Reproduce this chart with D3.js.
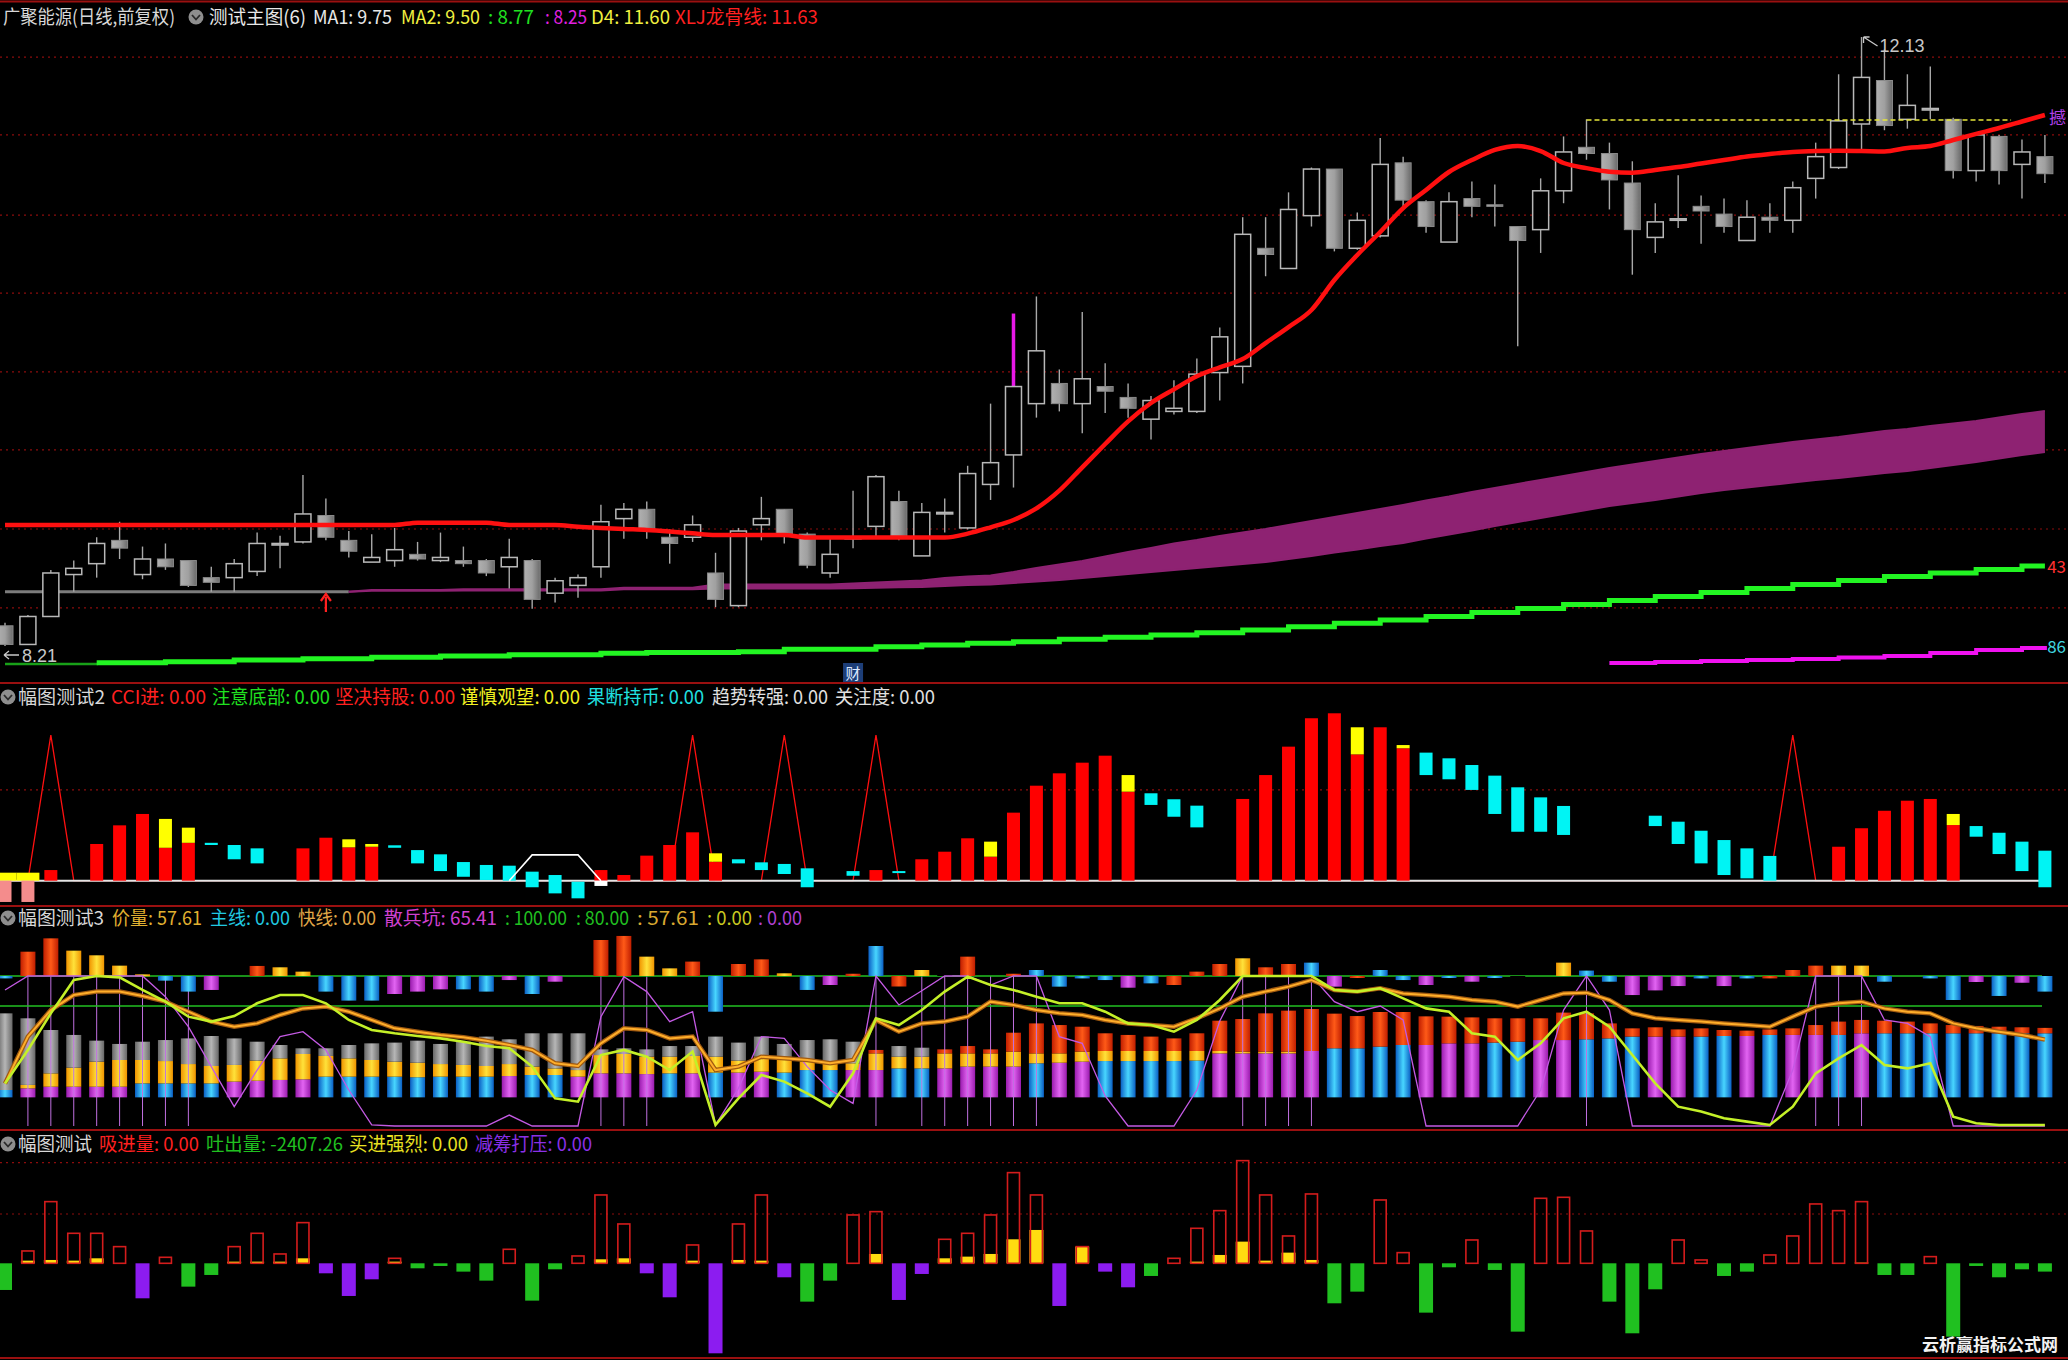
<!DOCTYPE html>
<html><head><meta charset="utf-8">
<script src="https://cdn.jsdelivr.net/npm/d3@7"></script>
<style>html,body{margin:0;padding:0;background:#000;overflow:hidden}</style>
</head><body><svg id="c" width="2068" height="1360"></svg>
<script>
// ---------------- DATA ----------------
const open = [8.34,8.22,8.40,8.67,8.74,8.89,8.67,8.77,8.76,8.65, 8.65,8.69,8.86,8.88,9.05,8.89,8.75,8.76,8.80,8.76, 8.76,8.76,8.72,8.76,8.55,8.60,8.72,9.03,9.09,8.91, 8.91,8.68,8.47,8.99,9.09,8.93,8.68,8.90,8.98,9.14, 8.79,9.06,8.97,9.25,9.44,9.77,9.90,9.77,9.88,9.81, 9.67,9.72,9.72,9.97,10.01,10.77,10.64,10.98,11.28,10.77, 10.85,11.32,11.07,10.81,11.09,11.05,10.91,10.89,11.14,11.42, 11.38,11.19,10.84,10.95,11.04,10.99,10.82,10.97,10.95,11.22, 11.29,11.57,11.85,11.60,11.66,11.60,11.27,11.49,11.31,11.36];
const high = [8.36,8.41,8.70,8.76,8.91,9.01,8.85,8.87,8.76,8.72, 8.77,8.94,8.92,9.31,9.16,8.95,8.93,8.97,8.88,8.94, 8.85,8.77,8.90,8.77,8.65,8.67,9.12,9.13,9.14,8.96, 9.05,8.81,8.97,9.17,9.09,8.94,8.90,9.21,9.31,9.21, 9.13,9.16,9.37,9.77,10.35,10.46,9.99,10.36,10.03,9.90, 9.82,9.92,10.06,10.26,10.97,10.97,11.13,11.29,11.28,11.00, 11.48,11.36,11.08,11.13,11.20,11.18,10.91,11.22,11.49,11.60, 11.45,11.33,11.06,11.24,11.11,11.09,11.08,11.06,11.20,11.45, 11.89,12.13,12.05,11.89,11.94,11.61,11.50,11.50,11.47,11.50];
const low = [8.21,8.22,8.40,8.56,8.65,8.77,8.64,8.70,8.59,8.56, 8.56,8.66,8.71,8.87,8.89,8.78,8.75,8.72,8.76,8.75, 8.72,8.66,8.58,8.45,8.49,8.52,8.65,8.90,8.90,8.74, 8.88,8.46,8.46,8.89,8.87,8.71,8.65,8.84,8.91,8.89, 8.79,8.94,8.96,9.15,9.23,9.68,9.72,9.58,9.71,9.68, 9.54,9.70,9.71,9.79,9.90,10.59,10.64,10.91,10.75,10.76, 10.84,11.03,10.87,10.81,10.97,10.91,10.14,10.74,11.06,11.34, 11.02,10.60,10.74,10.90,10.80,10.87,10.82,10.87,10.87,11.09, 11.28,11.40,11.53,11.54,11.60,11.22,11.20,11.18,11.09,11.19];
const close = [8.22,8.40,8.68,8.71,8.87,8.84,8.77,8.72,8.60,8.62, 8.74,8.87,8.87,9.06,8.91,8.82,8.78,8.83,8.77,8.78, 8.74,8.68,8.78,8.51,8.63,8.65,9.01,9.09,8.96,8.87, 8.99,8.51,8.95,9.03,8.92,8.73,8.80,8.91,9.30,8.91, 9.07,9.07,9.32,9.39,9.88,10.11,9.77,9.93,9.85,9.74, 9.79,9.74,9.96,10.20,10.86,10.73,11.02,11.28,10.77,10.95, 11.31,11.08,10.91,11.07,11.04,11.04,10.82,11.14,11.39,11.38, 11.21,10.89,10.94,10.96,11.01,10.91,10.97,10.95,11.16,11.36, 11.59,11.87,11.56,11.69,11.67,11.27,11.50,11.27,11.39,11.25];
const magentaWickBars = [44];
const xlj = [8.989,8.989,8.989,8.989,8.989,8.989,8.989,8.989,8.989,8.989, 8.989,8.989,8.989,8.989,8.989,8.989,8.989,8.989,9.004,9.004, 9.004,9.004,8.989,8.989,8.989,8.978,8.970,8.963,8.957,8.947, 8.935,8.925,8.925,8.925,8.925,8.908,8.908,8.908,8.908,8.908, 8.908,8.908,8.933,8.974,9.021,9.096,9.210,9.360,9.510,9.656, 9.774,9.862,9.946,10.004,10.057,10.160,10.263,10.373,10.566,10.727, 10.875,11.029,11.145,11.261,11.338,11.403,11.428,11.396,11.319,11.286, 11.263,11.257,11.274,11.293,11.316,11.338,11.361,11.377,11.390,11.396, 11.398,11.396,11.393,11.416,11.428,11.467,11.506,11.544,11.586,11.628];
const ma1 = [8.559,8.559,8.559,8.559,8.559,8.559,8.559,8.559,8.559,8.559, 8.559,8.559,8.559,8.559,8.559,8.559,8.571,8.571,8.571,8.571, 8.575,8.575,8.575,8.575,8.575,8.575,8.575,8.585,8.585,8.585, 8.585,8.606,8.606,8.606,8.606,8.606,8.606,8.612,8.618,8.625, 8.632,8.648,8.657,8.664,8.686,8.712,8.735,8.757,8.786,8.815, 8.841,8.870,8.892,8.918,8.941,8.963,8.989,9.015,9.040,9.066, 9.092,9.118,9.147,9.172,9.201,9.227,9.253,9.279,9.304,9.330, 9.356,9.378,9.401,9.423,9.446,9.465,9.485,9.504,9.523,9.539, 9.555,9.575,9.594,9.607,9.626,9.642,9.658,9.681,9.703,9.722];
const ma2 = [8.559,8.559,8.559,8.559,8.559,8.559,8.559,8.559,8.559,8.559, 8.559,8.559,8.559,8.559,8.559,8.559,8.565,8.565,8.565,8.565, 8.568,8.568,8.568,8.568,8.568,8.568,8.568,8.575,8.575,8.575, 8.575,8.580,8.580,8.580,8.580,8.580,8.580,8.582,8.585,8.588, 8.590,8.596,8.603,8.606,8.616,8.625,8.635,8.648,8.661,8.673, 8.686,8.699,8.712,8.725,8.738,8.751,8.770,8.789,8.812,8.831, 8.854,8.873,8.902,8.928,8.953,8.982,9.008,9.034,9.060,9.085, 9.111,9.130,9.150,9.172,9.195,9.214,9.230,9.246,9.262,9.279, 9.291,9.308,9.324,9.337,9.356,9.375,9.394,9.417,9.439,9.459];
const greenLine = [8.094,8.094,8.094,8.094,8.102,8.102,8.102,8.109,8.109,8.109, 8.120,8.120,8.120,8.128,8.128,8.128,8.137,8.137,8.137,8.146, 8.146,8.146,8.154,8.154,8.154,8.154,8.163,8.163,8.168,8.168, 8.168,8.168,8.173,8.173,8.189,8.189,8.189,8.189,8.205,8.205, 8.216,8.216,8.227,8.227,8.237,8.237,8.253,8.253,8.266,8.266, 8.281,8.281,8.296,8.296,8.313,8.313,8.334,8.334,8.356,8.356, 8.377,8.377,8.400,8.400,8.426,8.426,8.451,8.451,8.477,8.477, 8.503,8.503,8.529,8.529,8.554,8.554,8.580,8.580,8.606,8.606, 8.632,8.632,8.657,8.657,8.680,8.680,8.702,8.702,8.725,8.725];
const magentaLine = [null,null,null,null,null,null,null,null,null,null, null,null,null,null,null,null,null,null,null,null, null,null,null,null,null,null,null,null,null,null, null,null,null,null,null,null,null,null,null,null, null,null,null,null,null,null,null,null,null,null, null,null,null,null,null,null,null,null,null,null, null,null,null,null,null,null,null,null,null,null, 8.101,8.101,8.107,8.107,8.113,8.113,8.120,8.120,8.126,8.126, 8.136,8.136,8.146,8.146,8.165,8.165,8.184,8.184,8.197,8.210];
const d4Level = 11.596, d4StartBar = 69, d4EndBar = 87;
const priceGrid = [12.00, 11.50, 10.984, 10.482, 9.974, 9.472, 8.963, 8.455];
const highLabel = "12.13", lowLabel = "8.21";

// pane 2
const p2Red = [null,null,7.3,null,25.2,38,45.8,22.6,26,null, null,null,null,22.2,29.5,22.9,23.3,null,null,null, null,null,null,null,null,null,7.3,3.9,17.2,24.5, 33.2,13,null,null,null,null,null,null,7.3,null, 14.7,19.9,29.1,16.5,46.7,65.2,73.7,81,85.8,61.1, null,null,null,null,56.1,72.5,92,111.5,114.9,86.7, 105.3,90.9,null,null,null,null,null,null,null,null, null,null,null,null,null,null,null,null,null,null, 23.3,36,48,54.9,56.1,38.2,null,null,null,null];
const p2Yellow = [5.5,5.5,null,null,null,null,null,42.4,36.4,null, null,null,null,null,null,28.4,25.2,null,null,null, null,null,null,null,null,null,null,null,null,null, null,18.8,null,null,null,null,null,null,null,null, null,null,null,26.8,null,null,null,null,null,72.5, null,null,null,null,null,null,null,null,null,105.3, null,93.1,null,null,null,null,null,null,null,null, null,null,null,null,null,null,null,null,null,null, null,null,null,null,null,45.8,null,null,null,null];
const p2CyanTop = [null,null,null,null,null,null,null,null,null,26, 24.5,22.2,null,null,null,null,null,24.3,21,18.1, 12.8,10.8,10.3,6.2,3.9,-0.7,null,null,null,null, null,null,14.7,12.6,11.5,8.5,null,6.6,null,6.6, null,null,null,null,null,null,null,null,null,null, 60,55.9,51.5,null,null,null,null,null,null,null, null,null,87.9,84,79.4,72.1,64.1,57.2,51.3,null, null,null,44.6,40.5,34.3,27.9,22.2,17,null,null, null,null,null,null,null,null,37.5,32.9,26.8,20.6];
const p2CyanBot = [null,null,null,null,null,null,null,null,null,24.5, 14.7,11.9,null,null,null,null,null,22.6,11.9,6.6, 2.7,0.5,0,-4.5,-8.7,-12.1,null,null,null,null, null,null,11.9,7.3,4.6,-4.5,null,3.4,null,5.5, null,null,null,null,null,null,null,null,null,null, 52,43.9,36.6,null,null,null,null,null,null,null, null,null,72.5,69.6,62.3,45.8,33.6,33.6,31.4,null, null,null,37.5,25.2,11.9,3.9,1.6,0,null,null, null,null,null,null,null,null,30.2,18.3,6.6,-4.5];
const p2Pink = [-14.6,-14.6];
const p2WhiteBox = {26: -3.6};
const p2Spike = [0,0,100,0,0,0,0,0,0,0, 0,0,0,0,0,0,0,0,0,0, 0,0,0,0,0,0,0,0,0,0, 100,0,0,0,100,0,0,0,100,0, 0,0,0,0,0,0,0,0,0,0, 0,0,0,0,0,0,0,0,0,0, 0,0,0,0,0,0,0,0,0,0, 0,0,0,0,0,0,0,0,100,0, 0,0,0,0,0,0,0,0,0,0];
const p2HumpBars = [22,23,24,25,26];
const p2HumpVals = [0,17.7,17.7,17.7,0];
const p2GridVal = 62.3;

// pane 3
const p3Cap = [98.4,116.2,125.1,116.9,113.8,106.9,101.1,96.9,89.6,90.7, null,106.7,105.8,102.9,89.6,83.6,83.6,88,89.6,91.1, 91.1,89.6,97.3,88,96.2,null,124,126.7,112.9,105.1, 109.6,76.2,108,111.1,101.8,90.7,94,101.5,120,93, 104,104,112.9,null,101.5,104,92.9,98.4,97.3,92.2, 95.1,94,102.9,108,111.8,105.8,108,108.9,92.9,99, 104,97.3,94,99,96.2,99,91.8,null,108.9,103.6, 96.2,87.3,90.4,93.3,98.4,93.3,98.4,98.4,104,106.9, 106.9,106.9,96.2,null,98.4,84,96,86.7,95.5,89.6];
const p3CapColor = "brryyyybbp-ryybbbpppbbpbp-rryyrbrrybprbrytr-rbbbbpbrrryrrbprbbpbpb-rybbpppbpbrrryyb-bbpbpb".split("");
const p3Bot = [24,25.1,26.2,26.2,26.2,26.2,28.4,28.4,28.4,28.4, 29.6,30.2,30.7,31.1,32.9,32.9,32.9,32.9,32.5,32.9, 32.9,32.9,33.3,34,34,32.9,35.1,35.1,34.6,35.1, 35.1,35.6,35.6,36.2,35.6,37.3,37.3,37.3,37.3,38.4, 38.4,38.4,39.6,39.6,39.6,41.8,42.2,42.9,43.3,43.3, 43.3,43.3,43.6,48.4,48.4,48.4,48.4,50,51.8,51.8, 52.9,54,54,55.1,55.1,55.6,56.2,57.3,57.3,57.8, 58.4,59.6,59.6,59.6,59.6,60,60,60.7,60.7,60.7, 60.7,61.8,61.8,61.8,61.8,61.8,61.8,61.8,61.8,61.8];
const p3Mid = [24,27.4,35.1,38.9,42.9,44,44,43.3,41.3,40, 40.7,43.6,45.1,48,46.7,45.1,44,42.9,42.2,41.3, 40.7,40,41.3,39.6,38.4,37.3,47.3,48,46.2,46.2, 46.7,46.2,43.6,46.2,46.2,42.9,42.2,41.8,48.4,46.2, 46.2,48.4,48.4,48.4,49.6,48.4,48.4,49.6,50,50, 50,50,50,50,49.6,49.6,49.6,50,51.8,51.8, 52.9,54,54,55.1,55.1,55.6,56.2,57.3,57.3,57.8, 58.4,59.6,59.6,59.6,59.6,60,60,60.7,60.7,60.7, 60.7,61.8,61.8,61.8,61.8,61.8,61.8,61.8,61.8,61.8];
const p3Top = [75.1,71.8,64,60.7,56.9,54.7,56.2,57.3,58.4,60, 58.4,56.2,54,51.8,51.8,54,55.1,55.6,56.9,54.7, 56.2,59.6,57.8,61.8,61.8,61.8,51.1,51.8,51.1,53.3, 53.3,59.6,55.6,59.6,54.7,57.3,57.8,56.2,50.7,53.3, 52.2,51.1,53.3,51.1,62.2,68.4,67.3,66.2,61.8,60.7, 59.6,58.4,61.8,70.2,71.3,75.1,76.9,78,74.9,73.3, 76,76,73.1,72.9,72.4,71.8,71.8,71.8,75.6,75.1, 68.4,65.1,65.8,64.4,65.1,64,63.6,64.4,65.1,67.3, 69.6,70.7,70.2,69.6,68.4,67.3,66.7,66.2,65.8,65.41];
const p3BotColor = "bpppppbbbbppppbbbbbbbbpbbppppbpbppbbbppbbppppbppbbbbbpppppbbbbpppbbppbbbppbbpbppbpbbbbbbbb".split("");
const p3TopColor = "ggggggggggggggggggggggggggggggggggggggrggrrrrrrrrrrrrrrrrrrrrrrrrrrrrrrrrrrrrrrrrrrrrrrrrrr".split("");
const p3Base = 19.1;
const p3Yg = [28.4,50.7,75.1,97.3,100,99.1,90.7,82.9,72.9,69.6, 73.3,81.8,87.3,87.3,81.8,70.7,64,61.8,60,58.4, 56.2,53.3,51.8,39.6,18.4,16.2,47.3,50.7,46.2,37.3, 49.6,0.7,18.4,34,29.6,21.8,12.9,35.1,71.8,67.3, 77.3,89.6,99.6,94,90.7,86.2,81.8,81.8,76.2,68.4, 67.3,62.9,70.7,84,100,100,100,100,90.7,89.6, 91.8,85.1,78.4,76.2,61.8,59.6,44,55.1,71.8,76.2, 66.2,47.3,28.4,12.9,9.6,5.1,2.9,0.7,12.9,35.1, 45.1,54,40.7,38.4,41.8,6.2,1.8,0.7,0.7,0.7];
const p3Price = [28.4,59.6,77.3,87.3,89.6,89.6,86.7,82.9,76.2,69.6, 66.2,68.4,74,78.4,79.6,76.2,70.7,65.1,62.9,60.7, 59.1,56.9,54,50.7,41.8,40,55.1,65.1,64,58.4, 59.6,37.3,39.6,46.2,45.1,44,41.8,44,70.7,62.9, 68.4,69.6,72.9,82.9,80.7,77.3,75.1,74,70.7,68.4, 67.3,66.2,71.8,78.4,86.2,89.6,92.9,97.3,90.7,89.6, 91.8,88.4,87.3,86.2,84,82.9,79.6,84,88.4,88.9, 84,75.1,71.8,70.7,69.6,68.4,67.3,66.2,72.9,79.6, 81.8,82.9,78.4,76.2,75.1,68.4,65.1,62.9,60.7,57.61];
const p3Purple = [90.7,100,100,100,100,100,100,86.2,66.2,39.6, 12.9,37.3,59.6,62.9,50.7,24,0.7,0,0,0, 0,0,7.3,0,0,0,72.9,99.6,89.6,69.6, 76.2,0.7,25.1,59.6,58.4,39.6,24,15.1,100,80.7, 90.2,100,100,94,100,100,59.6,55.1,20,0, 0,0,24,70,100,100,100,100,82.9,76.2, 80,70.7,0,0,0,0,0,24,77.3,100, 77.3,0,0,0,0,0,0,0,37.3,100, 100,100,70.7,68.4,59.6,0,0,0,0,0];
const p3VLineBars = [1,2,3,4,5,6,7,8,26,27,28,38,40,41,42,43,44,45,54,55,56,57,69,79,80,81];
const p3Levels = [100, 80];

// pane 4
const p4Val = [-7733,3577,17883,8700,8700,4833,-10150,1740,-6767,-3383, 4833,8700,2707,11793,-2900,-9473,-4640,1450,-1450,-773, -2417,-5027,4060,-10827,-1740,2127,19817,11407,-2900,-9860, 5317,-26100,11407,19817,-4060,-11117,-5027,14017,14983,-10633, -3093,6960,8700,14017,26293,19817,-12373,4833,-2417,-6960, -3673,1450,10150,15273,29773,19817,7927,20107,-11600,-8217, 18367,3093,-14307,-1160,6767,-1933,-19817,18850,19140,9377, -11117,-20300,-7540,6767,967,-3673,-2417,2417,7927,17207, 15273,17883,-3383,-3383,1933,-21267,-773,-4060,-1740,-2407.26];
const p4Yellow = [0,773,967,773,1450,0,0,0,0,0, 483,483,483,1450,0,0,0,483,0,0, 0,0,0,0,0,0,1160,1450,0,0, 773,0,967,773,0,0,0,0,2707,0, 0,1450,1933,2707,6960,9667,0,4833,0,0, 0,0,483,2417,6283,773,3093,967,0,0, 0,0,0,0,0,0,0,0,0,0, 0,0,0,0,0,0,0,0,0,0, 0,193,0,0,0,0,0,0,0,0];
const p4PurpleBars = [6,14,15,16,28,29,31,34,39,40,46,48,49];
const p4Grid = [29174, 14297];

// header labels
const mainHeader = [[3,172,'广聚能源(日线,前复权)','#d8d8d8'],[209,97,'测试主图(6)','#e8e8e8'],[313,79,'MA1: 9.75','#e8e8e8'],[401,79,'MA2: 9.50','#f0f040'],[488,46,': 8.77','#20e020'],[545,42,': 8.25','#e020e0'],[591,79,'D4: 11.60','#f0f040'],[675,143,'XLJ龙骨线: 11.63','#ff2020']];
const p2Header = [[18,87,'幅图测试2','#d8d8d8'],[111,95,'CCI进: 0.00','#ff2020'],[212,118,'注意底部: 0.00','#20e020'],[335,120,'坚决持股: 0.00','#ff2020'],[460,120,'谨慎观望: 0.00','#f0f020'],[587,117,'果断持币: 0.00','#20e0e0'],[712,116,'趋势转强: 0.00','#e0e0e0'],[835,100,'关注度: 0.00','#e0e0e0']];
const p3Header = [[18,86,'幅图测试3','#d8d8d8'],[112,90,'价量: 57.61','#e0b030'],[210,80,'主线: 0.00','#20c8e0'],[298,78,'快线: 0.00','#e0a848'],[384,113,'散兵坑: 65.41','#d040d0'],[505,62,': 100.00','#20c020'],[576,53,': 80.00','#20c020'],[637,62,': 57.61','#d8a830'],[707,45,': 0.00','#c8c820'],[758,44,': 0.00','#b040d0']];
const p4Header = [[18,74,'幅图测试','#d8d8d8'],[99,100,'吸进量: 0.00','#ff2020'],[206,137,'吐出量: -2407.26','#20c020'],[349,119,'买进强烈: 0.00','#e8e020'],[475,117,'减筹打压: 0.00','#8a30e8']];
const edgeLabels = [['撼', 124, '#b040e8'], ['43', 573, '#ff3030'], ['86', 653, '#40d8e0']];

// ---------------- DRAW ----------------
const N = open.length;
const W = 2068, H = 1360;
const svg = d3.select('#c');
svg.append('rect').attr('width', W).attr('height', H).attr('fill', '#000');
const defs = svg.append('defs');
function grad(id, a, b, c) {
  const g = defs.append('linearGradient').attr('id', id).attr('x1', '0').attr('x2', '1').attr('y1', '0').attr('y2', '0');
  g.append('stop').attr('offset', '0%').attr('stop-color', a);
  g.append('stop').attr('offset', '50%').attr('stop-color', b);
  g.append('stop').attr('offset', '100%').attr('stop-color', c);
}
grad('gCandle', '#b0b0b0', '#a0a0a0', '#6a6a6a');
grad('gBlue', '#0b5fc4', '#48d6ff', '#0b5fc4');
grad('gPurple', '#9a1cae', '#e264f2', '#9a1cae');
grad('gYellow', '#f09400', '#ffe23a', '#f09400');
grad('gRed', '#c01e00', '#ff5a18', '#c01e00');
grad('gGray', '#686868', '#b6b6b6', '#686868');
const fillOf = {b: 'url(#gBlue)', p: 'url(#gPurple)', y: 'url(#gYellow)', r: 'url(#gRed)', g: 'url(#gGray)'};

const x = d3.scaleLinear().domain([0, N - 1]).range([5, 2044.9]);
const yP = d3.scaleLinear().domain([8.21, 12.13]).range([646, 37]);
const y2 = d3.scaleLinear().domain([0, 100]).range([880.7, 735]);
const y3 = d3.scaleLinear().domain([0, 100]).range([1126, 976]);
const y4 = d3.scaleLinear().domain([0, 29000]).range([1263.3, 1163.3]);
const idx = d3.range(N);

// ===== main pane =====
const gm = svg.append('g');
gm.selectAll('line.grid').data(priceGrid).join('line')
  .attr('x1', 0).attr('x2', W).attr('y1', d => yP(d)).attr('y2', d => yP(d))
  .attr('stroke', '#8c0c0c').attr('stroke-width', 1.2).attr('stroke-dasharray', '2,4');

// band MA1/MA2
const grayIdx = idx.filter(i => i <= 15);
const bandIdx = idx.filter(i => i >= 15);
gm.append('path').datum(grayIdx)
  .attr('d', d3.line().x(i => x(i)).y(i => yP(ma1[i])))
  .attr('fill', 'none').attr('stroke', '#7c7c7c').attr('stroke-width', 3);
gm.append('path').datum(bandIdx)
  .attr('d', d3.area().x(i => x(i)).y0(i => yP(ma2[i])).y1(i => yP(ma1[i])))
  .attr('fill', '#8e2272');
[ma1, ma2].forEach(arr => gm.append('path').datum(bandIdx)
  .attr('d', d3.line().x(i => x(i)).y(i => yP(arr[i])))
  .attr('fill', 'none').attr('stroke', '#8e2272').attr('stroke-width', 2));

// green line
gm.append('path').datum(idx.filter(i => i <= 4))
  .attr('d', d3.line().x(i => x(i)).y(i => yP(greenLine[i])).curve(d3.curveStepAfter))
  .attr('fill', 'none').attr('stroke', '#18a018').attr('stroke-width', 2.5);
gm.append('path').datum(idx.filter(i => i >= 4))
  .attr('d', d3.line().x(i => x(i)).y(i => yP(greenLine[i])).curve(d3.curveStepAfter))
  .attr('fill', 'none').attr('stroke', '#22f522').attr('stroke-width', 5);
// magenta line
gm.append('path').datum(idx.filter(i => magentaLine[i] != null))
  .attr('d', d3.line().x(i => x(i)).y(i => yP(magentaLine[i])).curve(d3.curveStepAfter))
  .attr('fill', 'none').attr('stroke', '#f012f0').attr('stroke-width', 4);

// candles
const cw = 16;
idx.forEach(i => {
  const o = open[i], c = close[i], h = high[i], l = low[i];
  const cx = x(i);
  const top = Math.max(o, c), bot = Math.min(o, c);
  if (magentaWickBars.includes(i)) {
    gm.append('line').attr('x1', cx).attr('x2', cx).attr('y1', yP(bot)).attr('y2', yP(l)).attr('stroke', '#a8a8a8').attr('stroke-width', 1.4);
    gm.append('line').attr('x1', cx).attr('x2', cx).attr('y1', yP(h)).attr('y2', yP(top)).attr('stroke', '#e818e8').attr('stroke-width', 3.5);
  } else {
    gm.append('line').attr('x1', cx).attr('x2', cx).attr('y1', yP(h)).attr('y2', yP(l)).attr('stroke', '#a8a8a8').attr('stroke-width', 1.4);
  }
  const bh = Math.max(1.5, yP(bot) - yP(top));
  const r = gm.append('rect').attr('x', cx - cw / 2).attr('y', yP(top)).attr('width', cw).attr('height', bh);
  if (c >= o) r.attr('fill', '#000').attr('stroke', '#b8b8b8').attr('stroke-width', 1.5);
  else r.attr('fill', 'url(#gCandle)').attr('stroke', '#8a8a8a').attr('stroke-width', 1);
});

// red XLJ line
gm.append('path').datum(idx)
  .attr('d', d3.line().x(i => x(i)).y(i => yP(xlj[i])).curve(d3.curveMonotoneX))
  .attr('fill', 'none').attr('stroke', '#ff1010').attr('stroke-width', 4.5);
// D4 dashed
gm.append('line').attr('x1', x(d4StartBar)).attr('x2', x(d4EndBar) + 12)
  .attr('y1', yP(d4Level)).attr('y2', yP(d4Level))
  .attr('stroke', '#e6e63a').attr('stroke-width', 1.6).attr('stroke-dasharray', '5,3');

// high / low labels
const hx = x(high.indexOf(d3.max(high))), hy = yP(d3.max(high));
gm.append('path').attr('d', `M${hx + 2},${hy} L${hx + 16},${hy + 9} M${hx + 2},${hy} l6,0 M${hx + 2},${hy} l0,6`)
  .attr('stroke', '#c8c8c8').attr('stroke-width', 1.3).attr('fill', 'none');
gm.append('text').attr('x', hx + 18).attr('y', hy + 15).attr('fill', '#c8c8c8')
  .style('font', "18px 'Liberation Sans',sans-serif").text(highLabel);
const lx = x(low.indexOf(d3.min(low))), ly = yP(d3.min(low));
gm.append('path').attr('d', `M${lx - 1},${ly + 9} L${lx + 14},${ly + 9} M${lx - 1},${ly + 9} l5,-4 M${lx - 1},${ly + 9} l5,4`)
  .attr('stroke', '#c8c8c8').attr('stroke-width', 1.3).attr('fill', 'none');
gm.append('text').attr('x', lx + 17).attr('y', ly + 16).attr('fill', '#c8c8c8')
  .attr('textLength', 35).attr('lengthAdjust', 'spacingAndGlyphs')
  .style('font', "18px 'Liberation Sans Narrow','Liberation Sans',sans-serif").text(lowLabel);
// red up arrow at bar 14
const ax = x(14);
gm.append('line').attr('x1', ax).attr('x2', ax).attr('y1', 612).attr('y2', 597).attr('stroke', '#ff2020').attr('stroke-width', 2.2);
gm.append('path').attr('d', `M${ax - 5},${601} L${ax},${594} L${ax + 5},${601}`).attr('stroke', '#ff2020').attr('stroke-width', 2.2).attr('fill', 'none');
// 财 badge
gm.append('rect').attr('x', x(37) - 10).attr('y', 663).attr('width', 20).attr('height', 19).attr('fill', '#1d3e78');
gm.append('text').attr('x', x(37)).attr('y', 679).attr('text-anchor', 'middle').attr('fill', '#dce8ff')
  .style('font', "15px 'Noto Sans CJK SC',sans-serif").text('财');
// right edge labels (kept inside the picture)
edgeLabels.forEach(([t, yy, c]) => gm.append('text').attr('x', 2066).attr('y', yy).attr('text-anchor', 'end').attr('fill', c)
  .style('font', "17px 'Liberation Sans Narrow','Noto Sans CJK SC',sans-serif").text(t));

// ===== pane 2 =====
const g2 = svg.append('g');
g2.append('line').attr('x1', 0).attr('x2', W).attr('y1', y2(p2GridVal)).attr('y2', y2(p2GridVal))
  .attr('stroke', '#8c0c0c').attr('stroke-width', 1.2).attr('stroke-dasharray', '2,4');
g2.append('path').datum(idx)
  .attr('d', d3.line().x(i => x(i)).y(i => y2(p2Spike[i])))
  .attr('fill', 'none').attr('stroke', '#ff1010').attr('stroke-width', 1.3);
g2.append('line').attr('x1', 0).attr('x2', 2040).attr('y1', y2(0)).attr('y2', y2(0)).attr('stroke', '#e4e4e4').attr('stroke-width', 2);
const bw2 = 13;
idx.forEach(i => {
  const cx = x(i) - bw2 / 2;
  const rt = p2Red[i], yt = p2Yellow[i];
  if (rt != null) g2.append('rect').attr('x', cx).attr('width', bw2).attr('y', y2(rt)).attr('height', y2(0) - y2(rt)).attr('fill', '#ff0000');
  if (yt != null) {
    const base = rt != null ? rt : 0;
    const wide = rt == null ? 23 : bw2;
    g2.append('rect').attr('x', x(i) - wide / 2).attr('width', wide).attr('y', y2(yt)).attr('height', y2(base) - y2(yt)).attr('fill', '#ffff00');
  }
  if (p2CyanTop[i] != null) g2.append('rect').attr('x', cx).attr('width', bw2).attr('y', y2(p2CyanTop[i]))
    .attr('height', Math.max(2, y2(p2CyanBot[i]) - y2(p2CyanTop[i]))).attr('fill', '#00f4f4');
  if (i < p2Pink.length) g2.append('rect').attr('x', cx).attr('width', bw2).attr('y', y2(0)).attr('height', y2(p2Pink[i]) - y2(0)).attr('fill', '#f48c8c');
  if (p2WhiteBox[i] != null) g2.append('rect').attr('x', cx).attr('width', bw2).attr('y', y2(0)).attr('height', y2(p2WhiteBox[i]) - y2(0)).attr('fill', '#ffffff');
});
g2.append('path').datum(p2HumpBars)
  .attr('d', d3.line().x(i => x(i)).y((i, k) => y2(p2HumpVals[k])))
  .attr('fill', 'none').attr('stroke', '#ffffff').attr('stroke-width', 1.6);

// ===== pane 3 =====
const g3 = svg.append('g');
const bw3 = 15;
idx.forEach(i => {
  const cx = x(i) - bw3 / 2;
  g3.append('rect').attr('x', cx).attr('width', bw3).attr('y', y3(p3Bot[i])).attr('height', y3(p3Base) - y3(p3Bot[i])).attr('fill', fillOf[p3BotColor[i]]);
  if (p3Mid[i] > p3Bot[i]) g3.append('rect').attr('x', cx).attr('width', bw3).attr('y', y3(p3Mid[i])).attr('height', y3(p3Bot[i]) - y3(p3Mid[i])).attr('fill', 'url(#gYellow)');
  g3.append('rect').attr('x', cx).attr('width', bw3).attr('y', y3(p3Top[i])).attr('height', y3(p3Mid[i]) - y3(p3Top[i])).attr('fill', fillOf[p3TopColor[i]]);
});
g3.selectAll('line.v').data(p3VLineBars).join('line')
  .attr('x1', d => x(d)).attr('x2', d => x(d)).attr('y1', y3(0)).attr('y2', y3(100))
  .attr('stroke', '#c070e0').attr('stroke-width', 1);
g3.selectAll('line.lv').data(p3Levels).join('line')
  .attr('x1', 0).attr('x2', 2042).attr('y1', d => y3(d)).attr('y2', d => y3(d))
  .attr('stroke', '#22c022').attr('stroke-width', 1.6);
idx.forEach(i => {
  const v = p3Cap[i];
  if (v == null) return;
  const cx = x(i) - bw3 / 2;
  const t = Math.max(v, 100), b = Math.min(v, 100);
  g3.append('rect').attr('x', cx).attr('width', bw3).attr('y', y3(t)).attr('height', Math.max(2, y3(b) - y3(t))).attr('fill', fillOf[p3CapColor[i]]);
});
g3.append('path').datum(idx).attr('d', d3.line().x(i => x(i)).y(i => y3(p3Purple[i])))
  .attr('fill', 'none').attr('stroke', '#c45ae4').attr('stroke-width', 1.3);
g3.append('path').datum(idx).attr('d', d3.line().x(i => x(i)).y(i => y3(p3Price[i])))
  .attr('fill', 'none').attr('stroke', '#a05a10').attr('stroke-width', 4.5);
g3.append('path').datum(idx).attr('d', d3.line().x(i => x(i)).y(i => y3(p3Price[i])))
  .attr('fill', 'none').attr('stroke', '#ffae2a').attr('stroke-width', 2);
g3.append('path').datum(idx).attr('d', d3.line().x(i => x(i)).y(i => y3(p3Yg[i])))
  .attr('fill', 'none').attr('stroke', '#c4f028').attr('stroke-width', 2.6);

// ===== pane 4 =====
const g4 = svg.append('g');
g4.selectAll('line.g').data(p4Grid).join('line')
  .attr('x1', 0).attr('x2', W).attr('y1', d => y4(d)).attr('y2', d => y4(d))
  .attr('stroke', '#8c0c0c').attr('stroke-width', 1.2).attr('stroke-dasharray', '2,4');
const bw4 = 14;
idx.forEach(i => {
  const v = p4Val[i], cx = x(i) - bw4 / 2;
  if (v >= 0) {
    if (p4Yellow[i] > 0) g4.append('rect').attr('x', cx).attr('width', bw4).attr('y', y4(p4Yellow[i])).attr('height', y4(0) - y4(p4Yellow[i])).attr('fill', '#ffdc10');
    g4.append('rect').attr('x', cx + 1).attr('width', bw4 - 2).attr('y', y4(v)).attr('height', y4(0) - y4(v))
      .attr('fill', 'none').attr('stroke', '#d41c1c').attr('stroke-width', 1.6);
  } else {
    g4.append('rect').attr('x', cx).attr('width', bw4).attr('y', y4(0)).attr('height', y4(v) - y4(0))
      .attr('fill', p4PurpleBars.includes(i) ? '#8c1cf0' : '#20c020');
  }
});

// ===== separators & headers =====
[1.5, 683, 906, 1130, 1358].forEach(yy => svg.append('line').attr('x1', 0).attr('x2', W).attr('y1', yy).attr('y2', yy).attr('stroke', '#9a1010').attr('stroke-width', 2));
function header(list, yb) {
  list.forEach(([x0, w, t, c]) => svg.append('text').attr('x', x0).attr('y', yb)
    .attr('textLength', w).attr('lengthAdjust', 'spacingAndGlyphs').attr('fill', c)
    .style('font', "19px 'Liberation Sans Narrow','Noto Sans CJK SC',sans-serif").text(t));
}
function icon(cx, cy) {
  svg.append('circle').attr('cx', cx).attr('cy', cy).attr('r', 7.5).attr('fill', '#8e8e8e');
  svg.append('path').attr('d', `M${cx - 4},${cy - 2} L${cx},${cy + 2.5} L${cx + 4},${cy - 2}`).attr('stroke', '#2a2a2a').attr('stroke-width', 1.8).attr('fill', 'none');
}
svg.append('rect').attr('x', 0).attr('y', 3).attr('width', 830).attr('height', 26).attr('fill', '#000');
header(mainHeader, 24); icon(196, 17);
header(p2Header, 704); icon(8, 697);
header(p3Header, 925); icon(8, 918);
header(p4Header, 1151); icon(8, 1144);

// watermark
svg.append('text').attr('x', 1922).attr('y', 1351).attr('textLength', 136).attr('lengthAdjust', 'spacingAndGlyphs')
  .attr('fill', '#f2f2f2').style('font', "bold 17px 'Noto Sans CJK SC',sans-serif").text('云析赢指标公式网');
</script>
</body></html>
